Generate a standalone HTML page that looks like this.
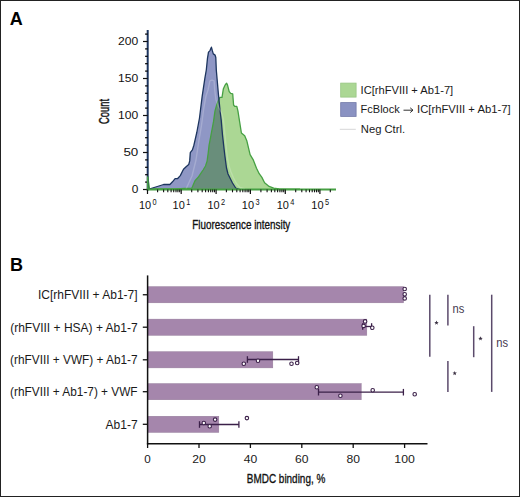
<!DOCTYPE html>
<html><head><meta charset="utf-8"><style>
html,body{margin:0;padding:0;background:#fff;}
body{width:520px;height:497px;overflow:hidden;position:relative;font-family:"Liberation Sans", sans-serif;}
.frame{position:absolute;left:0;top:0;width:520px;height:497px;box-sizing:border-box;border:1px solid #222;border-right-width:1.4px;border-bottom-width:1.4px;}
</style></head><body>
<svg width="520" height="497" viewBox="0 0 520 497" style="position:absolute;left:0;top:0;font-family:'Liberation Sans', sans-serif"><defs><clipPath id="cb"><polygon points="147.7,189.5 160.5,185.5 163.6,184.5 169.9,184.5 172.5,181.8 175.1,178.7 177.7,178.5 180.3,175.6 183.5,169.3 186.1,166.7 188.7,164.6 189.7,160.9 190.3,152.6 192.4,149.9 193.9,145.2 196.8,132.5 199.5,118.0 202.2,96.2 204.9,78.1 206.3,70.0 207.5,58.1 208.5,52.1 210.0,50.6 211.4,47.2 212.4,50.9 213.3,53.9 215.1,55.1 215.8,57.5 216.3,70.0 218.4,94.0 220.0,110.0 221.2,120.0 222.5,135.0 224.2,150.0 224.9,156.0 226.5,168.0 228.0,174.0 230.0,178.0 232.5,183.0 235.7,188.0 240.0,189.5"/></clipPath></defs><polygon points="147.7,189.5 147.7,176.5 149.5,188.6 160.0,189.0 175.0,188.8 185.0,188.5 191.8,188.2 195.0,180.8 198.2,177.3 201.0,173.2 203.1,170.0 205.5,166.0 207.1,161.1 208.2,153.0 209.1,145.0 210.8,136.2 213.5,121.7 215.0,110.9 217.0,104.0 219.8,97.4 222.0,97.4 223.4,88.7 224.9,85.4 226.5,83.2 227.4,84.7 229.2,91.6 230.7,93.4 232.7,93.8 233.6,105.0 234.7,106.4 236.8,106.4 237.9,110.8 241.4,133.0 244.7,135.7 246.9,141.1 250.1,154.7 253.4,160.2 256.5,168.3 259.2,173.7 261.9,177.4 264.6,182.8 269.1,186.4 273.7,188.2 279.1,188.8 300.0,189.2 336.0,189.3 336.0,189.5" fill="#abd794"/><polygon points="147.7,189.5 160.5,185.5 163.6,184.5 169.9,184.5 172.5,181.8 175.1,178.7 177.7,178.5 180.3,175.6 183.5,169.3 186.1,166.7 188.7,164.6 189.7,160.9 190.3,152.6 192.4,149.9 193.9,145.2 196.8,132.5 199.5,118.0 202.2,96.2 204.9,78.1 206.3,70.0 207.5,58.1 208.5,52.1 210.0,50.6 211.4,47.2 212.4,50.9 213.3,53.9 215.1,55.1 215.8,57.5 216.3,70.0 218.4,94.0 220.0,110.0 221.2,120.0 222.5,135.0 224.2,150.0 224.9,156.0 226.5,168.0 228.0,174.0 230.0,178.0 232.5,183.0 235.7,188.0 240.0,189.5" fill="#8f97c5"/><polygon points="147.7,189.5 147.7,176.5 149.5,188.6 160.0,189.0 175.0,188.8 185.0,188.5 191.8,188.2 195.0,180.8 198.2,177.3 201.0,173.2 203.1,170.0 205.5,166.0 207.1,161.1 208.2,153.0 209.1,145.0 210.8,136.2 213.5,121.7 215.0,110.9 217.0,104.0 219.8,97.4 222.0,97.4 223.4,88.7 224.9,85.4 226.5,83.2 227.4,84.7 229.2,91.6 230.7,93.4 232.7,93.8 233.6,105.0 234.7,106.4 236.8,106.4 237.9,110.8 241.4,133.0 244.7,135.7 246.9,141.1 250.1,154.7 253.4,160.2 256.5,168.3 259.2,173.7 261.9,177.4 264.6,182.8 269.1,186.4 273.7,188.2 279.1,188.8 300.0,189.2 336.0,189.3 336.0,189.5" fill="#698e7b" clip-path="url(#cb)"/><polyline points="147.7,189.5 147.7,176.5 149.5,188.6 160.0,189.0 175.0,188.8 185.0,188.5 191.8,188.2 195.0,180.8 198.2,177.3 201.0,173.2 203.1,170.0 205.5,166.0 207.1,161.1 208.2,153.0 209.1,145.0 210.8,136.2 213.5,121.7 215.0,110.9 217.0,104.0 219.8,97.4 222.0,97.4 223.4,88.7 224.9,85.4 226.5,83.2 227.4,84.7 229.2,91.6 230.7,93.4 232.7,93.8 233.6,105.0 234.7,106.4 236.8,106.4 237.9,110.8 241.4,133.0 244.7,135.7 246.9,141.1 250.1,154.7 253.4,160.2 256.5,168.3 259.2,173.7 261.9,177.4 264.6,182.8 269.1,186.4 273.7,188.2 279.1,188.8 300.0,189.2" fill="none" stroke="#46a043" stroke-width="1.3" stroke-linejoin="round"/><polyline points="147.7,189.5 160.5,185.5 163.6,184.5 169.9,184.5 172.5,181.8 175.1,178.7 177.7,178.5 180.3,175.6 183.5,169.3 186.1,166.7 188.7,164.6 189.7,160.9 190.3,152.6 192.4,149.9 193.9,145.2 196.8,132.5 199.5,118.0 202.2,96.2 204.9,78.1 206.3,70.0 207.5,58.1 208.5,52.1 210.0,50.6 211.4,47.2 212.4,50.9 213.3,53.9 215.1,55.1 215.8,57.5 216.3,70.0 218.4,94.0 220.0,110.0 221.2,120.0 222.5,135.0 224.2,150.0 224.9,156.0 226.5,168.0 228.0,174.0 230.0,178.0 232.5,183.0 235.7,188.0 240.0,189.5" fill="none" stroke="#1d355f" stroke-width="1.3" stroke-linejoin="round"/><polyline points="186.0,189.0 192.0,176.0 196.0,160.0 199.0,140.0 201.4,126.0 203.8,108.0 206.0,96.0 208.0,90.0 209.9,80.8 212.0,80.2 214.1,80.8 214.7,90.0 216.0,100.0 219.0,108.0 222.0,114.0 223.5,120.0 225.0,135.0 226.5,150.0 227.5,158.0 229.0,166.0 231.0,172.0 233.5,178.0 236.5,183.5 240.0,187.5 245.0,189.0" fill="none" stroke="#ffffff" stroke-opacity="0.2" stroke-width="1.4" stroke-linejoin="round"/><line x1="147.7" y1="30" x2="147.7" y2="190.5" stroke="#1d355f" stroke-width="2"/><line x1="143" y1="189.5" x2="147.7" y2="189.5" stroke="#111" stroke-width="1.2"/><line x1="145.1" y1="182.1" x2="147.7" y2="182.1" stroke="#000" stroke-width="1.2"/><line x1="145.1" y1="174.7" x2="147.7" y2="174.7" stroke="#000" stroke-width="1.2"/><line x1="145.1" y1="167.3" x2="147.7" y2="167.3" stroke="#000" stroke-width="1.2"/><line x1="145.1" y1="159.9" x2="147.7" y2="159.9" stroke="#000" stroke-width="1.2"/><line x1="143" y1="152.5" x2="147.7" y2="152.5" stroke="#111" stroke-width="1.2"/><line x1="145.1" y1="145.1" x2="147.7" y2="145.1" stroke="#000" stroke-width="1.2"/><line x1="145.1" y1="137.7" x2="147.7" y2="137.7" stroke="#000" stroke-width="1.2"/><line x1="145.1" y1="130.3" x2="147.7" y2="130.3" stroke="#000" stroke-width="1.2"/><line x1="145.1" y1="122.9" x2="147.7" y2="122.9" stroke="#000" stroke-width="1.2"/><line x1="143" y1="115.5" x2="147.7" y2="115.5" stroke="#111" stroke-width="1.2"/><line x1="145.1" y1="108.1" x2="147.7" y2="108.1" stroke="#000" stroke-width="1.2"/><line x1="145.1" y1="100.7" x2="147.7" y2="100.7" stroke="#000" stroke-width="1.2"/><line x1="145.1" y1="93.3" x2="147.7" y2="93.3" stroke="#000" stroke-width="1.2"/><line x1="145.1" y1="85.9" x2="147.7" y2="85.9" stroke="#000" stroke-width="1.2"/><line x1="143" y1="78.5" x2="147.7" y2="78.5" stroke="#111" stroke-width="1.2"/><line x1="145.1" y1="71.1" x2="147.7" y2="71.1" stroke="#000" stroke-width="1.2"/><line x1="145.1" y1="63.7" x2="147.7" y2="63.7" stroke="#000" stroke-width="1.2"/><line x1="145.1" y1="56.3" x2="147.7" y2="56.3" stroke="#000" stroke-width="1.2"/><line x1="145.1" y1="48.9" x2="147.7" y2="48.9" stroke="#000" stroke-width="1.2"/><line x1="143" y1="41.5" x2="147.7" y2="41.5" stroke="#111" stroke-width="1.2"/><line x1="145.1" y1="34.1" x2="147.7" y2="34.1" stroke="#000" stroke-width="1.2"/><line x1="147.7" y1="176.5" x2="147.7" y2="190" stroke="#46a043" stroke-width="1.5"/><line x1="146.7" y1="189.5" x2="336" y2="189.5" stroke="#46a043" stroke-width="1.8"/><line x1="147.5" y1="189.5" x2="147.5" y2="194" stroke="#111" stroke-width="1.2"/><line x1="157.6" y1="189.5" x2="157.6" y2="192.3" stroke="#111" stroke-width="1.1"/><line x1="163.6" y1="189.5" x2="163.6" y2="192.3" stroke="#111" stroke-width="1.1"/><line x1="167.8" y1="189.5" x2="167.8" y2="192.3" stroke="#111" stroke-width="1.1"/><line x1="171.1" y1="189.5" x2="171.1" y2="192.3" stroke="#111" stroke-width="1.1"/><line x1="173.7" y1="189.5" x2="173.7" y2="192.3" stroke="#111" stroke-width="1.1"/><line x1="176.0" y1="189.5" x2="176.0" y2="192.3" stroke="#111" stroke-width="1.1"/><line x1="177.9" y1="189.5" x2="177.9" y2="192.3" stroke="#111" stroke-width="1.1"/><line x1="179.7" y1="189.5" x2="179.7" y2="192.3" stroke="#111" stroke-width="1.1"/><line x1="181.2" y1="189.5" x2="181.2" y2="194" stroke="#111" stroke-width="1.2"/><line x1="191.7" y1="189.5" x2="191.7" y2="192.3" stroke="#111" stroke-width="1.1"/><line x1="197.9" y1="189.5" x2="197.9" y2="192.3" stroke="#111" stroke-width="1.1"/><line x1="202.2" y1="189.5" x2="202.2" y2="192.3" stroke="#111" stroke-width="1.1"/><line x1="205.6" y1="189.5" x2="205.6" y2="192.3" stroke="#111" stroke-width="1.1"/><line x1="208.4" y1="189.5" x2="208.4" y2="192.3" stroke="#111" stroke-width="1.1"/><line x1="210.7" y1="189.5" x2="210.7" y2="192.3" stroke="#111" stroke-width="1.1"/><line x1="212.7" y1="189.5" x2="212.7" y2="192.3" stroke="#111" stroke-width="1.1"/><line x1="214.5" y1="189.5" x2="214.5" y2="192.3" stroke="#111" stroke-width="1.1"/><line x1="216.1" y1="189.5" x2="216.1" y2="194" stroke="#111" stroke-width="1.2"/><line x1="226.4" y1="189.5" x2="226.4" y2="192.3" stroke="#111" stroke-width="1.1"/><line x1="232.5" y1="189.5" x2="232.5" y2="192.3" stroke="#111" stroke-width="1.1"/><line x1="236.8" y1="189.5" x2="236.8" y2="192.3" stroke="#111" stroke-width="1.1"/><line x1="240.1" y1="189.5" x2="240.1" y2="192.3" stroke="#111" stroke-width="1.1"/><line x1="242.8" y1="189.5" x2="242.8" y2="192.3" stroke="#111" stroke-width="1.1"/><line x1="245.1" y1="189.5" x2="245.1" y2="192.3" stroke="#111" stroke-width="1.1"/><line x1="247.1" y1="189.5" x2="247.1" y2="192.3" stroke="#111" stroke-width="1.1"/><line x1="248.8" y1="189.5" x2="248.8" y2="192.3" stroke="#111" stroke-width="1.1"/><line x1="250.4" y1="189.5" x2="250.4" y2="194" stroke="#111" stroke-width="1.2"/><line x1="260.9" y1="189.5" x2="260.9" y2="192.3" stroke="#111" stroke-width="1.1"/><line x1="267.1" y1="189.5" x2="267.1" y2="192.3" stroke="#111" stroke-width="1.1"/><line x1="271.4" y1="189.5" x2="271.4" y2="192.3" stroke="#111" stroke-width="1.1"/><line x1="274.8" y1="189.5" x2="274.8" y2="192.3" stroke="#111" stroke-width="1.1"/><line x1="277.6" y1="189.5" x2="277.6" y2="192.3" stroke="#111" stroke-width="1.1"/><line x1="279.9" y1="189.5" x2="279.9" y2="192.3" stroke="#111" stroke-width="1.1"/><line x1="281.9" y1="189.5" x2="281.9" y2="192.3" stroke="#111" stroke-width="1.1"/><line x1="283.7" y1="189.5" x2="283.7" y2="192.3" stroke="#111" stroke-width="1.1"/><line x1="285.3" y1="189.5" x2="285.3" y2="194" stroke="#111" stroke-width="1.2"/><line x1="295.7" y1="189.5" x2="295.7" y2="192.3" stroke="#111" stroke-width="1.1"/><line x1="301.8" y1="189.5" x2="301.8" y2="192.3" stroke="#111" stroke-width="1.1"/><line x1="306.1" y1="189.5" x2="306.1" y2="192.3" stroke="#111" stroke-width="1.1"/><line x1="309.5" y1="189.5" x2="309.5" y2="192.3" stroke="#111" stroke-width="1.1"/><line x1="312.2" y1="189.5" x2="312.2" y2="192.3" stroke="#111" stroke-width="1.1"/><line x1="314.5" y1="189.5" x2="314.5" y2="192.3" stroke="#111" stroke-width="1.1"/><line x1="316.5" y1="189.5" x2="316.5" y2="192.3" stroke="#111" stroke-width="1.1"/><line x1="318.3" y1="189.5" x2="318.3" y2="192.3" stroke="#111" stroke-width="1.1"/><line x1="319.9" y1="189.5" x2="319.9" y2="194" stroke="#111" stroke-width="1.2"/><line x1="330.3" y1="189.5" x2="330.3" y2="192.3" stroke="#111" stroke-width="1.1"/><text x="138.3" y="193.4" text-anchor="end" font-size="11" textLength="6.6" lengthAdjust="spacingAndGlyphs" fill="#111">0</text><text x="138.3" y="156.4" text-anchor="end" font-size="11" textLength="14.9" lengthAdjust="spacingAndGlyphs" fill="#111">50</text><text x="138.3" y="119.4" text-anchor="end" font-size="11" textLength="20.2" lengthAdjust="spacingAndGlyphs" fill="#111">100</text><text x="138.3" y="82.4" text-anchor="end" font-size="11" textLength="20.2" lengthAdjust="spacingAndGlyphs" fill="#111">150</text><text x="138.3" y="45.4" text-anchor="end" font-size="11" textLength="20.2" lengthAdjust="spacingAndGlyphs" fill="#111">200</text><text x="138.9" y="208.8" font-size="11" textLength="12.2" lengthAdjust="spacingAndGlyphs" fill="#111">10</text><text x="152.5" y="204.7" font-size="8.8" textLength="4.1" lengthAdjust="spacingAndGlyphs" fill="#111">0</text><text x="172.6" y="208.8" font-size="11" textLength="12.2" lengthAdjust="spacingAndGlyphs" fill="#111">10</text><text x="186.2" y="204.7" font-size="8.8" textLength="4.1" lengthAdjust="spacingAndGlyphs" fill="#111">1</text><text x="207.5" y="208.8" font-size="11" textLength="12.2" lengthAdjust="spacingAndGlyphs" fill="#111">10</text><text x="221.1" y="204.7" font-size="8.8" textLength="4.1" lengthAdjust="spacingAndGlyphs" fill="#111">2</text><text x="241.8" y="208.8" font-size="11" textLength="12.2" lengthAdjust="spacingAndGlyphs" fill="#111">10</text><text x="255.4" y="204.7" font-size="8.8" textLength="4.1" lengthAdjust="spacingAndGlyphs" fill="#111">3</text><text x="276.7" y="208.8" font-size="11" textLength="12.2" lengthAdjust="spacingAndGlyphs" fill="#111">10</text><text x="290.3" y="204.7" font-size="8.8" textLength="4.1" lengthAdjust="spacingAndGlyphs" fill="#111">4</text><text x="311.3" y="208.8" font-size="11" textLength="12.2" lengthAdjust="spacingAndGlyphs" fill="#111">10</text><text x="324.9" y="204.7" font-size="8.8" textLength="4.1" lengthAdjust="spacingAndGlyphs" fill="#111">5</text><text x="192.3" y="228.5" font-size="13" textLength="98" lengthAdjust="spacingAndGlyphs" fill="#111" stroke="#111" stroke-width="0.35">Fluorescence intensity</text><text transform="translate(108.6,124) rotate(-90)" font-size="14" textLength="25" lengthAdjust="spacingAndGlyphs" fill="#111" stroke="#111" stroke-width="0.45">Count</text><text x="9.8" y="25.1" font-size="18" font-weight="bold" fill="#000">A</text><rect x="340.7" y="83.1" width="15.4" height="14.0" fill="#abd794" stroke="#97c683" stroke-width="0.8"/><rect x="340.7" y="102.6" width="15.4" height="13.8" fill="#8a92c2" stroke="#737ba9" stroke-width="0.8"/><line x1="339.8" y1="129.3" x2="355.8" y2="129.3" stroke="#d6d6d8" stroke-width="1"/><text x="360.6" y="94.0" font-size="11" textLength="92.6" lengthAdjust="spacingAndGlyphs" fill="#1a1a1a">IC[rhFVIII + Ab1-7]</text><text x="360.6" y="112.6" font-size="11" fill="#1a1a1a">FcBlock</text><path d="M403.5 110.2H412.8M410.2 107.8L413 110.2L410.2 112.6" fill="none" stroke="#1a1a1a" stroke-width="0.9"/><text x="417.0" y="112.6" font-size="11" textLength="93.6" lengthAdjust="spacingAndGlyphs" fill="#1a1a1a">IC[rhFVIII + Ab1-7]</text><text x="360.8" y="132.6" font-size="11" textLength="44.3" lengthAdjust="spacingAndGlyphs" fill="#1a1a1a">Neg Ctrl.</text><text x="10" y="270.8" font-size="18" font-weight="bold" fill="#000">B</text><rect x="147.6" y="286.70" width="255.9" height="16.1" fill="#a586ac" stroke="#927898" stroke-width="0.5"/><line x1="142.8" y1="294.75" x2="147.6" y2="294.75" stroke="#111" stroke-width="1.3"/><text x="137.6" y="299.1" text-anchor="end" font-size="12" fill="#1a1a1a">IC[rhFVIII + Ab1-7]</text><rect x="147.6" y="319.15" width="219.2" height="16.1" fill="#a586ac" stroke="#927898" stroke-width="0.5"/><line x1="142.8" y1="327.2" x2="147.6" y2="327.2" stroke="#111" stroke-width="1.3"/><text x="137.6" y="331.6" text-anchor="end" font-size="12" fill="#1a1a1a">(rhFVIII + HSA) + Ab1-7</text><rect x="147.6" y="351.75" width="125.2" height="16.1" fill="#a586ac" stroke="#927898" stroke-width="0.5"/><line x1="142.8" y1="359.8" x2="147.6" y2="359.8" stroke="#111" stroke-width="1.3"/><text x="137.6" y="364.2" text-anchor="end" font-size="12" textLength="127.5" lengthAdjust="spacingAndGlyphs" fill="#1a1a1a">(rhFVIII + VWF) + Ab1-7</text><rect x="147.6" y="383.65" width="213.6" height="16.1" fill="#a586ac" stroke="#927898" stroke-width="0.5"/><line x1="142.8" y1="391.7" x2="147.6" y2="391.7" stroke="#111" stroke-width="1.3"/><text x="137.6" y="396.1" text-anchor="end" font-size="12" textLength="127.5" lengthAdjust="spacingAndGlyphs" fill="#1a1a1a">(rhFVIII + Ab1-7) + VWF</text><rect x="147.6" y="416.25" width="71.2" height="16.1" fill="#a586ac" stroke="#927898" stroke-width="0.5"/><line x1="142.8" y1="424.3" x2="147.6" y2="424.3" stroke="#111" stroke-width="1.3"/><text x="137.6" y="428.7" text-anchor="end" font-size="12" fill="#1a1a1a">Ab1-7</text><line x1="362.7" y1="326.5" x2="371.6" y2="326.5" stroke="#3b2049" stroke-width="1.3"/><line x1="362.7" y1="323.2" x2="362.7" y2="329.8" stroke="#3b2049" stroke-width="1.3"/><line x1="371.6" y1="323.2" x2="371.6" y2="329.8" stroke="#3b2049" stroke-width="1.3"/><line x1="247.4" y1="359.5" x2="298.5" y2="359.5" stroke="#3b2049" stroke-width="1.3"/><line x1="247.4" y1="356.2" x2="247.4" y2="362.8" stroke="#3b2049" stroke-width="1.3"/><line x1="298.5" y1="356.2" x2="298.5" y2="362.8" stroke="#3b2049" stroke-width="1.3"/><line x1="318.5" y1="392.2" x2="403.4" y2="392.2" stroke="#3b2049" stroke-width="1.3"/><line x1="318.5" y1="388.9" x2="318.5" y2="395.5" stroke="#3b2049" stroke-width="1.3"/><line x1="403.4" y1="388.9" x2="403.4" y2="395.5" stroke="#3b2049" stroke-width="1.3"/><line x1="199.5" y1="424.5" x2="238.9" y2="424.5" stroke="#3b2049" stroke-width="1.3"/><line x1="199.5" y1="421.2" x2="199.5" y2="427.8" stroke="#3b2049" stroke-width="1.3"/><line x1="238.9" y1="421.2" x2="238.9" y2="427.8" stroke="#3b2049" stroke-width="1.3"/><circle cx="404.7" cy="289" r="1.75" fill="#fff" stroke="#3b2049" stroke-width="1.1"/><circle cx="404.7" cy="294.3" r="1.75" fill="#fff" stroke="#3b2049" stroke-width="1.1"/><circle cx="404.7" cy="298.4" r="1.75" fill="#fff" stroke="#3b2049" stroke-width="1.1"/><circle cx="365.1" cy="321.4" r="1.75" fill="#fff" stroke="#3b2049" stroke-width="1.1"/><circle cx="363.6" cy="325.9" r="1.75" fill="#fff" stroke="#3b2049" stroke-width="1.1"/><circle cx="372.3" cy="327.7" r="1.75" fill="#fff" stroke="#3b2049" stroke-width="1.1"/><circle cx="243.8" cy="363.8" r="1.75" fill="#fff" stroke="#3b2049" stroke-width="1.1"/><circle cx="258" cy="360.8" r="1.75" fill="#fff" stroke="#3b2049" stroke-width="1.1"/><circle cx="291.5" cy="363.8" r="1.75" fill="#fff" stroke="#3b2049" stroke-width="1.1"/><circle cx="297.2" cy="363" r="1.75" fill="#fff" stroke="#3b2049" stroke-width="1.1"/><circle cx="316.8" cy="387.3" r="1.75" fill="#fff" stroke="#3b2049" stroke-width="1.1"/><circle cx="340.4" cy="395.8" r="1.75" fill="#fff" stroke="#3b2049" stroke-width="1.1"/><circle cx="372.7" cy="390.3" r="1.75" fill="#fff" stroke="#3b2049" stroke-width="1.1"/><circle cx="414.7" cy="394.2" r="1.75" fill="#fff" stroke="#3b2049" stroke-width="1.1"/><circle cx="203.8" cy="423" r="1.75" fill="#fff" stroke="#3b2049" stroke-width="1.1"/><circle cx="209.7" cy="426.2" r="1.75" fill="#fff" stroke="#3b2049" stroke-width="1.1"/><circle cx="215.1" cy="419.6" r="1.75" fill="#fff" stroke="#3b2049" stroke-width="1.1"/><circle cx="246.9" cy="418.1" r="1.75" fill="#fff" stroke="#3b2049" stroke-width="1.1"/><line x1="147.6" y1="275.4" x2="147.6" y2="444.4" stroke="#111" stroke-width="1.5"/><line x1="146.9" y1="443.7" x2="427.5" y2="443.7" stroke="#111" stroke-width="1.5"/><line x1="147.6" y1="443.7" x2="147.6" y2="448" stroke="#111" stroke-width="1.3"/><text x="147.6" y="463.4" text-anchor="middle" font-size="10.5" textLength="6.5" lengthAdjust="spacingAndGlyphs" fill="#1a1a1a">0</text><line x1="199.0" y1="443.7" x2="199.0" y2="448" stroke="#111" stroke-width="1.3"/><text x="199.0" y="463.4" text-anchor="middle" font-size="10.5" textLength="13.5" lengthAdjust="spacingAndGlyphs" fill="#1a1a1a">20</text><line x1="250.4" y1="443.7" x2="250.4" y2="448" stroke="#111" stroke-width="1.3"/><text x="250.4" y="463.4" text-anchor="middle" font-size="10.5" textLength="13.5" lengthAdjust="spacingAndGlyphs" fill="#1a1a1a">40</text><line x1="301.8" y1="443.7" x2="301.8" y2="448" stroke="#111" stroke-width="1.3"/><text x="301.8" y="463.4" text-anchor="middle" font-size="10.5" textLength="13.5" lengthAdjust="spacingAndGlyphs" fill="#1a1a1a">60</text><line x1="353.2" y1="443.7" x2="353.2" y2="448" stroke="#111" stroke-width="1.3"/><text x="353.2" y="463.4" text-anchor="middle" font-size="10.5" textLength="13.5" lengthAdjust="spacingAndGlyphs" fill="#1a1a1a">80</text><line x1="404.6" y1="443.7" x2="404.6" y2="448" stroke="#111" stroke-width="1.3"/><text x="404.6" y="463.4" text-anchor="middle" font-size="10.5" textLength="20.5" lengthAdjust="spacingAndGlyphs" fill="#1a1a1a">100</text><text x="246.8" y="483.4" font-size="13.5" textLength="78.5" lengthAdjust="spacingAndGlyphs" fill="#111" stroke="#111" stroke-width="0.35">BMDC binding, %</text><line x1="429.8" y1="294.7" x2="429.8" y2="356.7" stroke="#5b4a6b" stroke-width="1.5"/><line x1="447.9" y1="294.7" x2="447.9" y2="325.5" stroke="#5b4a6b" stroke-width="1.5"/><line x1="473.7" y1="326.2" x2="473.7" y2="357.2" stroke="#5b4a6b" stroke-width="1.5"/><line x1="447.9" y1="360.9" x2="447.9" y2="391.9" stroke="#5b4a6b" stroke-width="1.5"/><line x1="491.7" y1="294.7" x2="491.7" y2="391.9" stroke="#5b4a6b" stroke-width="1.5"/><polygon points="436.50,320.50 437.09,321.99 438.69,322.09 437.45,323.11 437.85,324.66 436.50,323.80 435.15,324.66 435.55,323.11 434.31,322.09 435.91,321.99" fill="#3a3042"/><polygon points="480.50,336.30 481.09,337.79 482.69,337.89 481.45,338.91 481.85,340.46 480.50,339.60 479.15,340.46 479.55,338.91 478.31,337.89 479.91,337.79" fill="#3a3042"/><polygon points="454.70,371.00 455.29,372.49 456.89,372.59 455.65,373.61 456.05,375.16 454.70,374.30 453.35,375.16 453.75,373.61 452.51,372.59 454.11,372.49" fill="#3a3042"/><text x="452.5" y="313.3" font-size="12" textLength="11.8" lengthAdjust="spacingAndGlyphs" fill="#45394f">ns</text><text x="496.3" y="347.0" font-size="12" textLength="11.8" lengthAdjust="spacingAndGlyphs" fill="#45394f">ns</text></svg>
<div class="frame"></div>
</body></html>
